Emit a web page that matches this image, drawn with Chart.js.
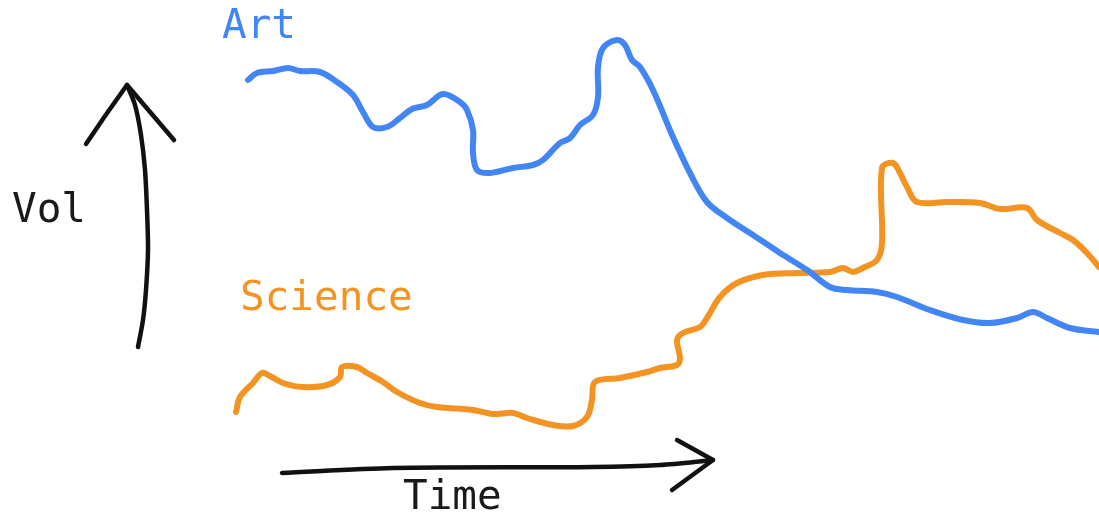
<!DOCTYPE html>
<html>
<head>
<meta charset="utf-8">
<script src="https://cdn.jsdelivr.net/npm/chart.js@4/dist/chart.umd.min.js"></script>
<style>
  html, body { margin: 0; padding: 0; background: #fff; }
  #wrap { position: relative; width: 1099px; height: 516px; }
  .lbl {
    position: absolute;
    font-family: "DejaVu Sans Mono", monospace;
    font-size: 41px;
    line-height: 1;
    white-space: nowrap;
  }
</style>
</head>
<body>
<div id="wrap">
  <canvas id="sketch" width="1099" height="516"></canvas>
  <div class="lbl" style="left:222px; top:4px; color:#4285f4;">Art</div>
  <div class="lbl" style="left:240px; top:276px; color:#f39422;">Science</div>
  <div class="lbl" style="left:12px; top:188px; color:#1a1a1a;">Vol</div>
  <div class="lbl" style="left:403px; top:475px; color:#1a1a1a;">Time</div>
</div>
<script>
"use strict";

// Art series (time, vol)
const artTime = [248, 257, 273, 288, 300, 320, 337, 353, 363, 373, 387, 400, 412, 427, 443, 460, 467, 473, 473, 477, 490, 513, 533, 543, 560, 570, 580, 593, 598, 598, 603, 617, 625, 632, 640, 653, 673, 690, 707, 727, 753, 780, 807, 830, 847, 877, 897, 930, 963, 990, 1017, 1033, 1047, 1070, 1099];
const artVol  = [436, 443, 445, 448, 445, 444, 434, 421, 404, 389, 389, 398, 407, 411, 422, 414, 406, 386, 363, 346, 343, 348, 351, 356, 373, 378, 391, 401, 419, 449, 468, 476, 471, 456, 449, 426, 379, 343, 314, 298, 281, 263, 246, 229, 226, 224, 219, 206, 196, 193, 198, 204, 198, 188, 184];

// Science series
const sciTime = [236, 240, 253, 262, 270, 283, 303, 327, 340, 342, 357, 367, 383, 397, 420, 437, 473, 493, 513, 527, 553, 573, 587, 592, 595, 620, 647, 660, 677, 680, 677, 683, 700, 707, 720, 737, 763, 797, 830, 843, 853, 863, 877, 882, 882, 893, 900, 907, 917, 947, 980, 1000, 1027, 1037, 1060, 1073, 1087, 1099];
const sciVol  = [104, 119, 133, 143, 140, 133, 129, 131, 139, 149, 149, 143, 134, 124, 113, 109, 106, 102, 103, 98, 91, 90, 99, 116, 134, 138, 144, 148, 151, 158, 176, 183, 189, 198, 219, 233, 241, 243, 244, 248, 244, 248, 256, 273, 348, 353, 343, 329, 314, 314, 313, 307, 308, 296, 283, 276, 263, 249];

// hand-drawn axis arrows
const volAxisTime  = [138, 143, 146, 148, 147, 145, 141, 135, 127];
const volAxisVol   = [169, 196, 226, 266, 306, 346, 381, 411, 431];
const volHeadTime  = [86, 105, 127, 174];
const volHeadVol   = [372, 400, 431, 376];
const timeAxisTime = [282, 393, 593, 660, 713];
const timeAxisVol  = [43, 48, 49, 51, 56];
const timeHeadTime = [677, 713, 672];
const timeHeadVol  = [76, 56, 26];

const pts = (xs, ys) => xs.map((x, i) => ({ x, y: ys[i] }));

function stroke(data, color, width, tension) {
  return {
    data,
    borderColor: color,
    borderWidth: width,
    tension,
    pointRadius: 0,
    fill: false,
    borderCapStyle: "round",
    borderJoinStyle: "round"
  };
}

new Chart(document.getElementById("sketch"), {
  type: "line",
  data: {
    datasets: [
      stroke(pts(artTime, artVol), "#4285f4", 6, 0.35),
      stroke(pts(sciTime, sciVol), "#f39422", 6, 0.35),
      stroke(pts(volAxisTime, volAxisVol), "#111111", 4.5, 0.3),
      stroke(pts(volHeadTime, volHeadVol), "#111111", 4.5, 0),
      stroke(pts(timeAxisTime, timeAxisVol), "#111111", 4.5, 0.3),
      stroke(pts(timeHeadTime, timeHeadVol), "#111111", 4.5, 0)
    ]
  },
  options: {
    responsive: false,
    animation: false,
    layout: { padding: 0 },
    plugins: { legend: { display: false }, tooltip: { enabled: false } },
    scales: {
      x: { type: "linear", min: 0, max: 1099, display: false },
      y: { type: "linear", min: 0, max: 516, display: false }
    }
  }
});
</script>
</body>
</html>
